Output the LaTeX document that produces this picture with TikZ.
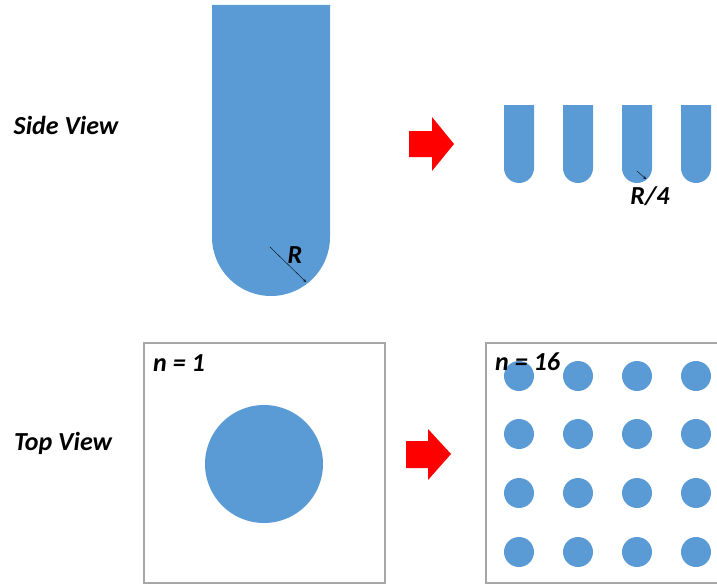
\documentclass[tikz,border=0pt]{standalone}
\usepackage{fontspec}
\setmainfont{Carlito}
\definecolor{pillarblue}{RGB}{91,155,213}
\definecolor{framegray}{RGB}{166,166,166}
\begin{document}
\begin{tikzpicture}[x=1pt, y=-1pt,
            lbl/.style={font=\fontsize{26}{30}\selectfont\bfseries\itshape, inner sep=0pt},
            pillar/.style={fill=pillarblue, draw=none},
            frame/.style={draw=framegray, line width=1.2pt},
            redarrow/.style={fill=red, draw=none},
            radiusline/.style={->, >=stealth, line width=0.4pt}
        ]
        \useasboundingbox (0,0) rectangle (717,586);

        % side view
        \node[lbl] (side) at (66,125) {Side View};
        \fill[pillar] (212,5) -- (330,5) -- (330,237) arc[start angle=0, end angle=180, radius=59] -- cycle;
        \coordinate (bigc) at (270,247);
        \coordinate (bigr) at (306,282);
        \draw[radiusline] (bigc) -- (bigr);
        \node[lbl] (rlabel) at (295,255) {R};

        \fill[redarrow] (409,131) -- (432,131) -- (432,117) -- (454,144) -- (432,171) -- (432,157) -- (409,157) -- cycle;

        \foreach \x in {504,563,622,681} {
            \fill[pillar] (\x,105) -- (\x+30,105) -- (\x+30,168) arc[start angle=0, end angle=180, radius=15] -- cycle;
        }
        \coordinate (smallc) at (637,171);
        \coordinate (smallr) at (646,179);
        \draw[radiusline] (smallc) -- (smallr);
        \node[lbl] (r4label) at (650,196) {R/4};

        % top view
        \node[lbl] (top) at (63,443) {Top View};
        \draw[frame] (144,343) rectangle (385,583);
        \fill[pillar] (264,464) circle[radius=59];
        \node[lbl, anchor=west] (n1) at (153,363) {n = 1};

        \fill[redarrow] (406,441) -- (428,441) -- (428,429) -- (451,454) -- (428,480) -- (428,468) -- (406,468) -- cycle;

        \draw[frame] (720,343) -- (486,343) -- (486,583) -- (720,583);
        \foreach \x in {519,578,637,696} {
            \foreach \y in {376,434,493,552} {
                \fill[pillar] (\x,\y) circle[radius=15];
            }
        }
        \node[lbl, anchor=west] (n16) at (495,362) {n = 16};
    \end{tikzpicture}
\end{document}
